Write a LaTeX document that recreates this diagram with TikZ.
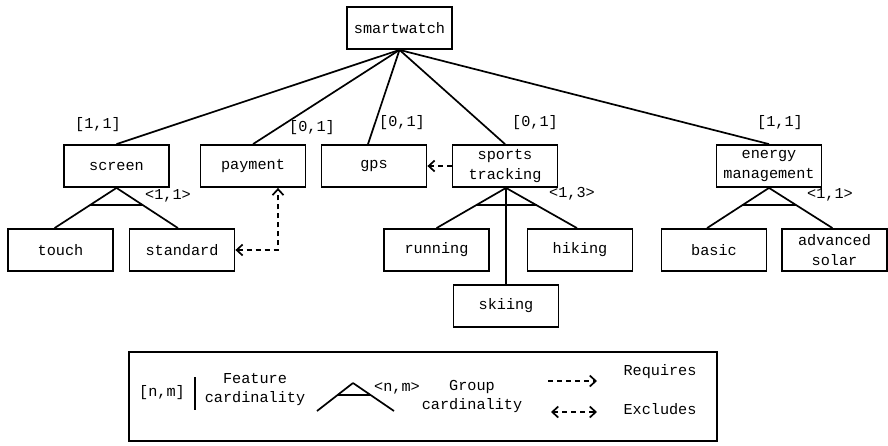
\documentclass[tikz,border=0pt]{standalone}
\usepackage{fontspec}
\newfontfamily\monofam{Liberation Mono}
\usetikzlibrary{arrows.meta,calc}
\tikzset{
  feat/.style={draw, line width=1.8pt, minimum width=105pt, minimum height=42pt,
               inner sep=1pt, align=center, font=\monofam\fontsize{15.2}{20}\selectfont},
  lbl/.style={inner sep=0pt, align=center, font=\monofam\fontsize{15.2}{19}\selectfont},
  link/.style={line width=1.7pt},
  dep/.style={line width=1.7pt, dash pattern=on 5pt off 4pt},
  tip/.tip={Straight Barb[length=6pt, width=11pt, line width=1.7pt]},
}
\begin{document}
\begin{tikzpicture}[x=1pt, y=-1pt]
  \useasboundingbox (0,0) rectangle (888,445);

  % features
  \node[feat] (root)    at (399.5,28)  {smartwatch};
  \node[feat] (screen)  at (116.5,166) {screen};
  \node[feat] (payment) at (253,166)   {payment};
  \node[feat] (gps)     at (374,166)   {gps};
  \node[feat] (sports)  at (505,166)   {sports\\tracking};
  \node[feat] (energy)  at (769,166)   {energy\\management};
  \node[feat] (touch)   at (60.5,250)  {touch};
  \node[feat] (standard)at (182,250)   {standard};
  \node[feat] (running) at (436.5,250) {running};
  \node[feat] (hiking)  at (580,250)   {hiking};
  \node[feat] (skiing)  at (506,306)   {skiing};
  \node[feat] (basic)   at (714,250)   {basic};
  \node[feat] (solar)   at (834.5,250) {advanced\\solar};

  % root decomposition
  \draw[link] (root.south) -- (screen.north);
  \draw[link] (root.south) -- (payment.north);
  \draw[link] (root.south) -- ([xshift=-6pt]gps.north);
  \draw[link] (root.south) -- (sports.north);
  \draw[link] (root.south) -- (energy.north);

  % feature cardinalities
  \node[lbl] (c1) at (98,125)  {[1,1]};
  \node[lbl] (c2) at (312,128) {[0,1]};
  \node[lbl] (c3) at (402,123) {[0,1]};
  \node[lbl] (c4) at (535,123) {[0,1]};
  \node[lbl] (c5) at (780,123) {[1,1]};

  % group: screen
  \draw[link] (screen.south) -- coordinate[pos=0.43] (sa) ([xshift=-6pt]touch.north);
  \draw[link] (screen.south) -- coordinate[pos=0.43] (sb) ([xshift=-4pt]standard.north);
  \draw[link] (sa) -- (sb);
  \node[lbl] (g1) at (168,196) {<1,1>};

  % group: sports tracking
  \coordinate (tapex) at ([xshift=1pt]sports.south);
  \draw[link] (tapex) -- coordinate[pos=0.43] (ta) (running.north);
  \draw[link] (tapex) -- coordinate[pos=0.43] (tb) ([xshift=-3pt]hiking.north);
  \draw[link] (tapex) -- (skiing.north);
  \draw[link] (ta) -- (tb);
  \node[lbl] (g2) at (572,194) {<1,3>};

  % group: energy management
  \draw[link] (energy.south) -- coordinate[pos=0.43] (ea) ([xshift=-7pt]basic.north);
  \draw[link] (energy.south) -- coordinate[pos=0.43] (eb) ([xshift=-2pt]solar.north);
  \draw[link] (ea) -- (eb);
  \node[lbl] (g3) at (830,195) {<1,1>};

  % cross-tree constraints
  \draw[dep, -tip] (sports.west) -- (gps.east);
  \coordinate (xc) at (278,250);
  \draw[dep, tip-tip] (standard.east) -- (xc) -- ([xshift=25pt]payment.south);

  % legend
  \node[draw, line width=1.8pt, minimum width=588pt, minimum height=89pt] (legend) at (423,396.5) {};
  \node[lbl] (lfc) at (162,393) {[n,m]};
  \coordinate (lb1) at (195,377);
  \coordinate (lb2) at (195,410);
  \draw[link] (lb1) -- (lb2);
  \node[lbl] (lfct) at (255,390) {Feature\\cardinality};

  \coordinate (lt0) at (353,383);
  \coordinate (lt1) at (317,411);
  \coordinate (lt2) at (394,411);
  \draw[link] (lt0) -- coordinate[pos=0.43] (lta) (lt1);
  \draw[link] (lt0) -- coordinate[pos=0.43] (ltb) (lt2);
  \draw[link] (lta) -- (ltb);
  \node[lbl] (lgc) at (397,388) {<n,m>};
  \node[lbl] (lgct) at (472,396) {Group\\cardinality};

  \coordinate (lr1) at (548,381);
  \coordinate (lr2) at (597,381);
  \draw[dep, -tip] (lr1) -- (lr2);
  \node[lbl] (lrq) at (660,372) {Requires};
  \coordinate (le1) at (551,412);
  \coordinate (le2) at (597,412);
  \draw[dep, tip-tip] (le1) -- (le2);
  \node[lbl] (lex) at (660,409) {Excludes};
\end{tikzpicture}
\end{document}
